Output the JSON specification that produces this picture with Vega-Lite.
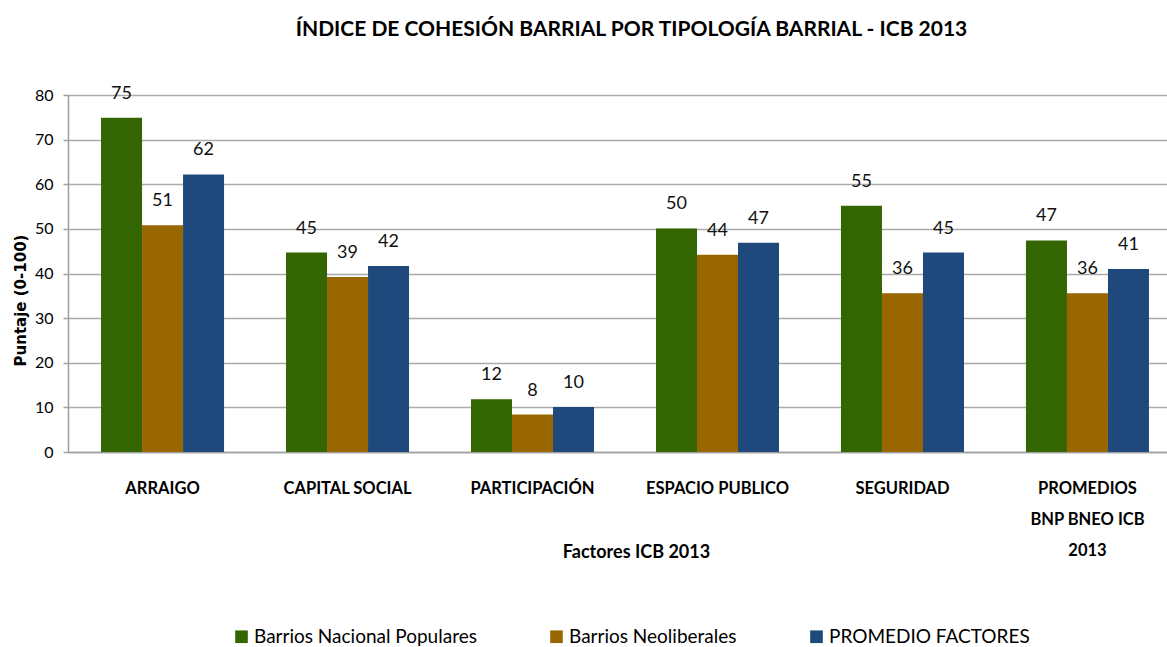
{
  "$schema": "https://vega.github.io/schema/vega-lite/v6.json",
  "width": 1099,
  "height": 357,
  "autosize": {"type": "none"},
  "padding": {"left": 68, "top": 95, "right": 0, "bottom": 195},
  "background": "white",
  "title": {
    "text": "ÍNDICE DE COHESIÓN BARRIAL POR TIPOLOGÍA BARRIAL - ICB 2013",
    "font": "Lato, Liberation Sans, sans-serif",
    "fontSize": 21,
    "fontWeight": "bold",
    "color": "#000000",
    "anchor": "middle",
    "frame": "group",
    "dx": 14,
    "offset": 45
  },
  "data": {
    "values": [
      {"factor": "ARRAIGO", "serie": "Barrios Nacional Populares", "value": 74.9},
      {"factor": "ARRAIGO", "serie": "Barrios Neoliberales", "value": 50.8},
      {"factor": "ARRAIGO", "serie": "PROMEDIO FACTORES", "value": 62.2},
      {"factor": "CAPITAL SOCIAL", "serie": "Barrios Nacional Populares", "value": 44.7},
      {"factor": "CAPITAL SOCIAL", "serie": "Barrios Neoliberales", "value": 39.2},
      {"factor": "CAPITAL SOCIAL", "serie": "PROMEDIO FACTORES", "value": 41.7},
      {"factor": "PARTICIPACIÓN", "serie": "Barrios Nacional Populares", "value": 11.8},
      {"factor": "PARTICIPACIÓN", "serie": "Barrios Neoliberales", "value": 8.4},
      {"factor": "PARTICIPACIÓN", "serie": "PROMEDIO FACTORES", "value": 10.1},
      {"factor": "ESPACIO PUBLICO", "serie": "Barrios Nacional Populares", "value": 50.1},
      {"factor": "ESPACIO PUBLICO", "serie": "Barrios Neoliberales", "value": 44.2},
      {"factor": "ESPACIO PUBLICO", "serie": "PROMEDIO FACTORES", "value": 46.9},
      {"factor": "SEGURIDAD", "serie": "Barrios Nacional Populares", "value": 55.2},
      {"factor": "SEGURIDAD", "serie": "Barrios Neoliberales", "value": 35.6},
      {"factor": "SEGURIDAD", "serie": "PROMEDIO FACTORES", "value": 44.7},
      {"factor": "PROMEDIOS BNP BNEO ICB 2013", "serie": "Barrios Nacional Populares", "value": 47.4},
      {"factor": "PROMEDIOS BNP BNEO ICB 2013", "serie": "Barrios Neoliberales", "value": 35.6},
      {"factor": "PROMEDIOS BNP BNEO ICB 2013", "serie": "PROMEDIO FACTORES", "value": 41.0}
    ]
  },
  "encoding": {
    "x": {
      "field": "factor",
      "type": "nominal",
      "sort": null,
      "scale": {"paddingInner": 0.335, "paddingOuter": 0.138, "align": 0.647},
      "axis": {
        "title": "Factores ICB 2013",
        "titleFont": "Lato, Liberation Sans, sans-serif",
        "titleFontSize": 18,
        "titleFontWeight": "bold",
        "titleColor": "#000000",
        "titleX": 568,
        "titleY": 100,
        "titleBaseline": "middle",
        "labelAngle": 0,
        "labelFont": "Lato, Liberation Sans, sans-serif",
        "labelFontSize": 16.5,
        "labelFontWeight": "bold",
        "labelColor": "#000000",
        "labelPadding": 28,
        "labelLineHeight": 31,
        "labelExpr": "datum.label == 'PROMEDIOS BNP BNEO ICB 2013' ? ['PROMEDIOS', 'BNP BNEO ICB', '2013'] : datum.label",
        "ticks": false,
        "domainColor": "#9e9e9e",
        "domainWidth": 1.5,
        "grid": false
      }
    },
    "xOffset": {
      "field": "serie",
      "type": "nominal",
      "sort": ["Barrios Nacional Populares", "Barrios Neoliberales", "PROMEDIO FACTORES"],
      "scale": {"paddingInner": 0, "paddingOuter": 0}
    },
    "y": {
      "field": "value",
      "type": "quantitative",
      "scale": {"domain": [0, 80], "nice": false},
      "axis": {
        "title": "Puntaje (0-100)",
        "titleFont": "DejaVu Sans, sans-serif",
        "titleFontSize": 15,
        "titleFontWeight": "bold",
        "titleColor": "#000000",
        "titleX": -48,
        "titleY": 205,
        "titleAngle": 270,
        "titleAlign": "center",
        "titleBaseline": "middle",
        "values": [0, 10, 20, 30, 40, 50, 60, 70, 80],
        "labelFont": "Lato, Liberation Sans, sans-serif",
        "labelFontSize": 16,
        "labelColor": "#000000",
        "labelPadding": 10,
        "tickSize": 5,
        "tickColor": "#9e9e9e",
        "tickWidth": 1.5,
        "domainColor": "#9e9e9e",
        "domainWidth": 1.5,
        "grid": true,
        "gridColor": "#aaaaaa",
        "gridWidth": 1.5
      }
    }
  },
  "layer": [
    {
      "mark": {"type": "bar"},
      "encoding": {
        "color": {
          "field": "serie",
          "type": "nominal",
          "scale": {
            "domain": ["Barrios Nacional Populares", "Barrios Neoliberales", "PROMEDIO FACTORES"],
            "range": ["#336600", "#996600", "#1f497d"]
          },
          "legend": {
            "title": null,
            "orient": "none",
            "direction": "horizontal",
            "legendX": 164,
            "legendY": 532,
            "symbolType": "square",
            "symbolSize": 160,
            "symbolStrokeWidth": 0,
            "symbolOpacity": 1,
            "labelFont": "Lato, Liberation Sans, sans-serif",
            "labelFontSize": 19,
            "labelColor": "#000000",
            "labelOffset": 3,
            "labelLimit": 400,
            "columnPadding": 70
          }
        }
      }
    },
    {
      "mark": {
        "type": "text",
        "baseline": "middle",
        "dy": -24,
        "font": "Lato, Liberation Sans, sans-serif",
        "fontSize": 18,
        "color": "#111111"
      },
      "encoding": {
        "text": {"field": "value", "type": "quantitative", "format": ".0f"}
      }
    }
  ]
}
